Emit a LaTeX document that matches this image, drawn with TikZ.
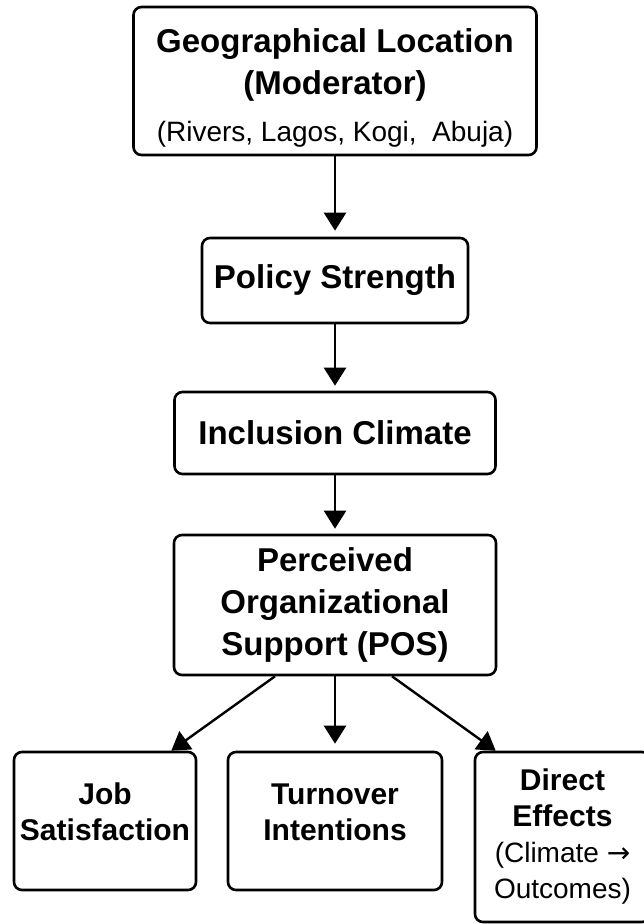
\documentclass[tikz,border=0pt]{standalone}
\usepackage{fontspec}
\setmainfont{Liberation Sans}
\newfontfamily\arrowfont{DejaVu Sans}
\usetikzlibrary{positioning}
\usetikzlibrary{calc}
\usetikzlibrary{arrows.meta}
\newcommand{\bigbold}{\fontsize{33}{42}\selectfont\bfseries}
\newcommand{\midbold}{\fontsize{30}{36}\selectfont\bfseries}
\newcommand{\smallreg}{\fontsize{28}{35}\selectfont\mdseries}

\begin{document}
\begin{tikzpicture}[x=1pt,y=-1pt,
	box/.style={draw,line width=2.6pt,rounded corners=8pt,align=center,inner sep=0pt},
	link/.style={line width=2.4pt,-{Triangle[width=22pt,length=18pt]}}]
	\useasboundingbox (0,0) rectangle (644,924);
	\clip (0,0) rectangle (644,924);
	\node[box,font=\bigbold,minimum width=403pt,minimum height=148pt] (loc) at (335,81) {\rule{0pt}{38pt}Geographical Location\\(Moderator)\\[5pt]\smallreg (Rivers, Lagos, Kogi,~~Abuja)};
	\node[box,font=\bigbold,minimum width=266pt,minimum height=85pt] (policy) at (335,280.5) {Policy Strength};
	\node[box,font=\bigbold,minimum width=321pt,minimum height=82pt] (climate) at (335,433) {Inclusion Climate};
	\node[box,font=\bigbold,minimum width=322pt,minimum height=140pt] (pos) at (335,605) {Perceived\\Organizational\\Support (POS)};
	\node[box,minimum width=182pt,minimum height=138pt] (js) at (105,821) {};
	\node[align=center,font=\midbold] (jstext) at (105,812) {Job\\Satisfaction};
	\node[box,minimum width=214pt,minimum height=138pt] (turn) at (335,821) {};
	\node[align=center,font=\midbold] (turntext) at (335,812) {Turnover\\Intentions};
	\node[box,font=\midbold,minimum width=175pt,minimum height=170pt] (direct) at (562.5,837) {Direct\\Effects\\\smallreg (Climate {\arrowfont →}\\\smallreg Outcomes)};
	\draw[link,shorten >=6pt] (loc) -- (policy);
	\draw[link,shorten >=5pt] (policy) -- (climate);
	\draw[link,shorten >=5pt] (climate) -- (pos);
	\draw[link,shorten >=7pt] (pos) -- (turn);
	\draw[link] ($(pos.south)+(-60,0)$) -- ($(js.north east)+(-26,0)$);
	\draw[link] ($(pos.south)+(57,0)$) -- ($(direct.north west)+(22,0)$);
\end{tikzpicture}
\end{document}
